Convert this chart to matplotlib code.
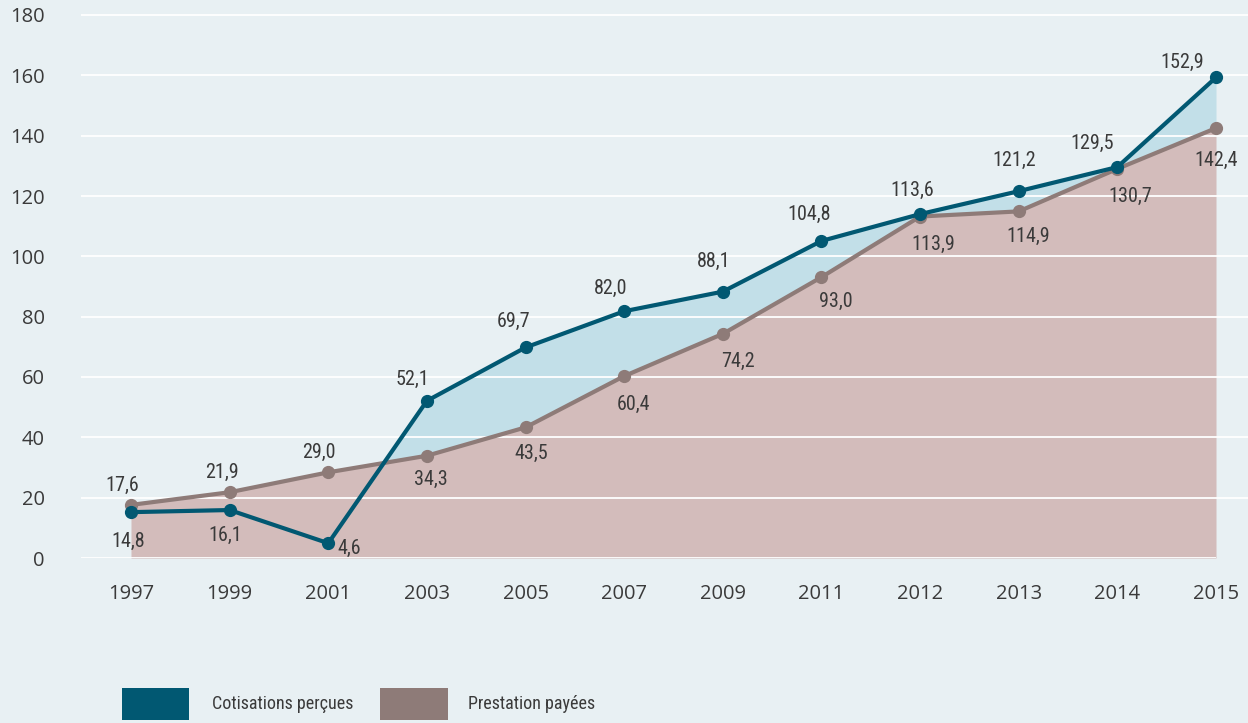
import matplotlib
matplotlib.use("Agg")
import matplotlib.pyplot as plt
from matplotlib import font_manager
from matplotlib.font_manager import FontProperties
from matplotlib.patches import Rectangle
import numpy as np

# ---- data ----
years = ["1997", "1999", "2001", "2003", "2005", "2007", "2009", "2011", "2012", "2013", "2014", "2015"]
# plotted positions
cotisations = [15.2, 15.9, 4.9, 52.1, 69.8, 81.8, 88.3, 105.1, 114.0, 121.6, 129.6, 159.3]
prestations = [17.6, 21.8, 28.4, 33.9, 43.3, 60.3, 74.3, 93.1, 113.2, 114.9, 129.0, 142.5]
# printed data labels
cot_labels = ["14,8", "16,1", "4,6", "52,1", "69,7", "82,0", "88,1", "104,8", "113,6", "121,2", "129,5", "152,9"]
pre_labels = ["17,6", "21,9", "29,0", "34,3", "43,5", "60,4", "74,2", "93,0", "113,9", "114,9", "130,7", "142,4"]
yticks = [0, 20, 40, 60, 80, 100, 120, 140, 160, 180]
legend_labels = ["Cotisations perçues", "Prestation payées"]

# label offsets in pixels (dx, dy with dy positive = downward)
cot_off = [(-3, 29), (-4, 25), (21, 5), (-14, -21), (-12, -26), (-14, -23), (-9, -30),
           (-12, -27), (-8, -24), (-5, -31), (-25, -24), (-34, -15)]
pre_off = [(-9, -20), (-8, -20), (-9, -20), (4, 24), (6, 26), (9, 28), (15, 28),
           (14, 24), (13, 28), (9, 25), (13, 28), (0, 32)]

# ---- fonts: look for a condensed face ----
def find_condensed():
    cands = []
    for f in font_manager.fontManager.ttflist:
        name = f.name.lower()
        fn = f.fname.lower()
        st = str(f.stretch).lower()
        cond = ("condensed" in name or "narrow" in name or "condensed" in fn or "narrow" in fn
                or st in ("condensed", "semi-condensed", "extra-condensed", "575", "600", "625", "650", "700", "750")
                or (st.isdigit() and int(st) < 700))
        if cond and f.style == "normal" and f.weight in (400, "normal", "regular"):
            cands.append(f)
    pref = ["liberation sans narrow", "roboto condensed", "open sans", "noto sans", "dejavu sans"]
    def key(f):
        n = f.name.lower()
        for i, p in enumerate(pref):
            if n.startswith(p):
                return (i, 0 if "semi" in f.fname.lower() else 1)
        return (len(pref), 1)
    cands.sort(key=key)
    return cands[0].fname if cands else None

cond_path = find_condensed()
if cond_path:
    LAB_FP = FontProperties(fname=cond_path, size=14.5)
    LEG_FP = FontProperties(fname=cond_path, size=13)
else:
    LAB_FP = FontProperties(family="Liberation Sans", size=12.5)
    LEG_FP = FontProperties(family="Liberation Sans", size=11.5)

available = {f.name for f in font_manager.fontManager.ttflist}
tickfont = "Open Sans" if "Open Sans" in available else "DejaVu Sans"

BG = "#e8f0f3"
BLUE = "#015872"
BROWN = "#8e7b78"
BROWN_FILL = "#d3bcbb"
BLUE_FILL = "#c2dfe8"
TXT = "#3a3a3a"

W, H = 1248, 723
fig = plt.figure(figsize=(W / 100, H / 100), dpi=100, facecolor=BG)

y0_px, y180_px = 558, 15
ppu = (y0_px - y180_px) / 180.0
ymax = 181
ax_bottom = (H - y0_px) / H
ax_height = ymax * ppu / H
ax_left = 81 / W
ax = fig.add_axes([ax_left, ax_bottom, 1 - ax_left, ax_height])
ax.set_facecolor(BG)

x = np.arange(len(years))
cot = np.array(cotisations)
pre = np.array(prestations)

ax.fill_between(x, 0, pre, color=BROWN_FILL, lw=0, zorder=1)
ax.fill_between(x, pre, cot, where=cot > pre, interpolate=True, color=BLUE_FILL, lw=0, zorder=1)

for t in yticks:
    if t == 0:
        ax.plot([-0.6, x[-1]], [0, 0], color="white", lw=1.3, zorder=1.5, solid_capstyle="butt")
    else:
        ax.axhline(t, color="white", lw=1.3, zorder=1.5)

ax.plot(x, pre, color=BROWN, lw=3, marker="o", ms=8.5, zorder=3)
ax.plot(x, cot, color=BLUE, lw=3, marker="o", ms=8.5, zorder=4)

for i in range(len(x)):
    dx, dy = cot_off[i]
    ax.annotate(cot_labels[i], (x[i], cot[i]), xytext=(dx * 0.72, -dy * 0.72),
                textcoords="offset points", ha="center", va="center",
                fontproperties=LAB_FP, color=TXT, zorder=5)
    dx, dy = pre_off[i]
    ax.annotate(pre_labels[i], (x[i], pre[i]), xytext=(dx * 0.72, -dy * 0.72),
                textcoords="offset points", ha="center", va="center",
                fontproperties=LAB_FP, color=TXT, zorder=5)

# x range: 1997 at px 131, 2015 at px 1216
step = (1216 - 131) / 11.0
ax.set_xlim(-(131 - 81) / step, 11 + (W - 1216) / step)
ax.set_ylim(0, ymax)

ax.set_xticks(x)
ax.set_xticklabels(years)
ax.set_yticks(yticks)
ax.set_yticklabels([str(t) for t in yticks])
ax.tick_params(axis="both", length=0, colors=TXT, labelsize=14.5)
ax.tick_params(axis="y", pad=26)
ax.tick_params(axis="x", pad=19)
for lab in ax.get_xticklabels() + ax.get_yticklabels():
    lab.set_family(tickfont)
for s in ax.spines.values():
    s.set_visible(False)

# legend (drawn in figure pixel coordinates)
def px_rect(x0, y0, w, h, color):
    fig.add_artist(Rectangle((x0 / W, 1 - (y0 + h) / H), w / W, h / H,
                             transform=fig.transFigure, color=color, lw=0))

px_rect(122, 688, 67, 32, BLUE)
fig.text(212 / W, 1 - 704 / H, legend_labels[0], ha="left", va="center",
         fontproperties=LEG_FP, color=TXT)
px_rect(380, 688, 68, 32, BROWN)
fig.text(468 / W, 1 - 704 / H, legend_labels[1], ha="left", va="center",
         fontproperties=LEG_FP, color=TXT)

fig.savefig("out.png", dpi=100, facecolor=BG)
